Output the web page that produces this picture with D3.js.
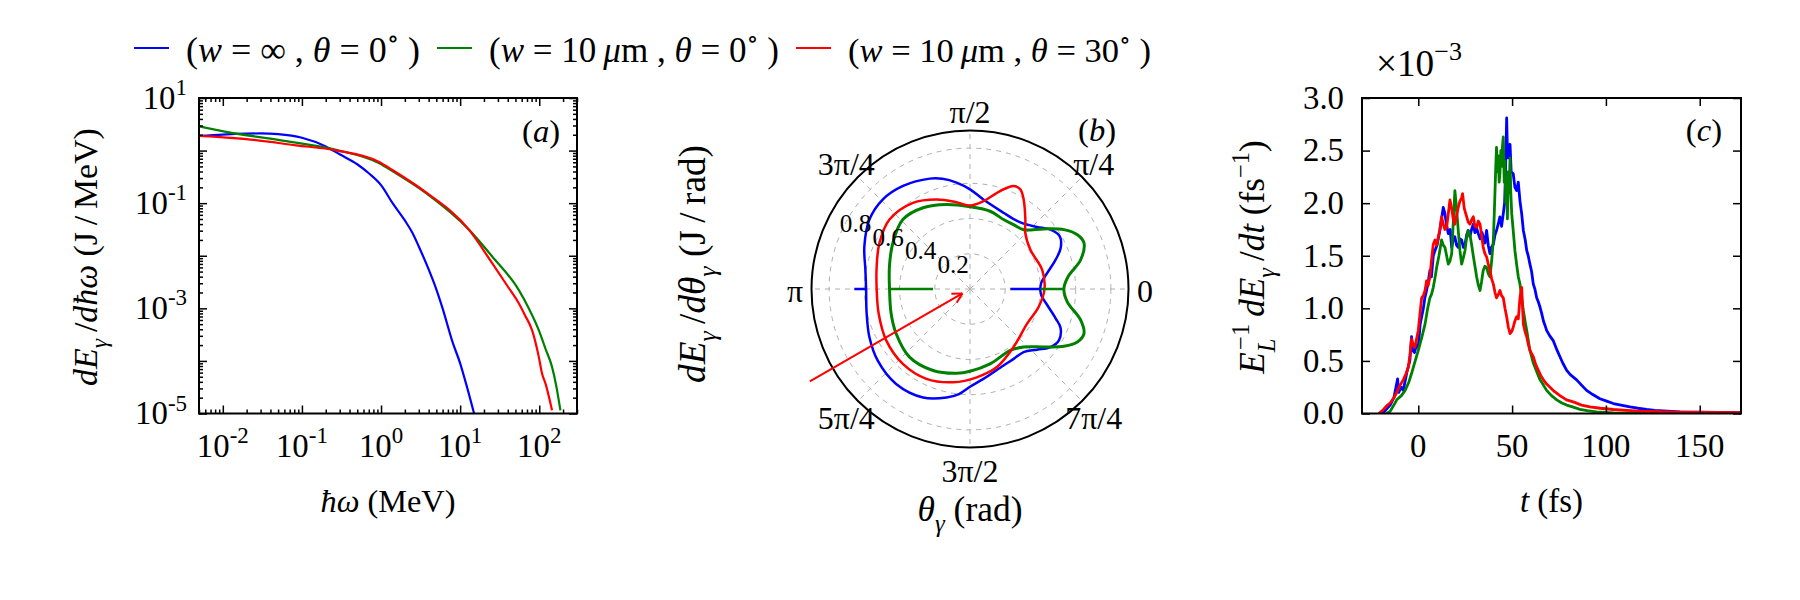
<!DOCTYPE html>
<html><head><meta charset="utf-8">
<script src="https://cdn.jsdelivr.net/npm/d3@7/dist/d3.min.js"></script>
<style>
html,body{margin:0;padding:0;background:#fff;}
text{font-family:'Liberation Serif','DejaVu Serif',serif;fill:#000;}
</style></head>
<body>
<svg id="fig" width="1800" height="600" xmlns="http://www.w3.org/2000/svg"></svg>
<script>
// ================= DATA =================
const seriesColors = ["#0000ff", "#008000", "#ff0000"];
const legendW = ["∞", "10", "10"];
const legendUnit = ["", "μm", "μm"];
const legendTheta = ["0", "0", "30"];

// (a) spectra  dE/dħω (J/MeV) vs ħω (MeV)
const specBlueE = [0.005, 0.01, 0.02, 0.03, 0.05, 0.1, 0.2, 0.3, 0.5, 0.7, 1, 1.4, 2, 2.5, 3, 4, 5, 6, 8, 10, 12, 15];
const specBlueV = [1.9, 2.02, 2.1, 2.12, 2.05, 1.75, 1.2, 0.85, 0.55, 0.37, 0.22, 0.1, 0.047, 0.027, 0.015, 0.0055, 0.0023, 0.001, 2.3e-4, 9e-5, 3.5e-5, 1e-5];
const specGreenE = [0.005, 0.011, 0.052, 0.27, 0.95, 1.39, 3.67, 12.9, 25.4, 55, 75, 98.6, 120, 145, 165, 185];
const specGreenV = [2.88, 2.27, 1.58, 1.03, 0.573, 0.408, 0.157, 0.0314, 0.0097, 0.00224, 9.5e-4, 3.85e-4, 1.7e-4, 7.7e-5, 3.2e-5, 1.15e-5];
const specRedE = [0.005, 0.0197, 0.0843, 0.27, 0.946, 1.39, 3.67, 12.9, 25.4, 40, 55.1, 66, 81.1, 98.6, 108.4, 120, 145];
const specRedV = [1.9, 1.65, 1.26, 1.01, 0.607, 0.427, 0.162, 0.0314, 0.00724, 0.0026, 0.00125, 7.4e-4, 3.85e-4, 1.2e-4, 5.75e-5, 3.7e-5, 1.15e-5];
const logXMajor = [1e-2, 1e-1, 1, 10, 100];
const logXExp = ["-2", "-1", "0", "1", "2"];
const logYLabelExp = [1, -1, -3, -5];

// (b) angular distribution dE/dθ (J/rad), angle in degrees
const polBlueDeg = [4.6, 11.6, 18.8, 24.3, 30.4, 36.4, 42.8, 50.6, 58, 66.3, 81.5, 90, 97.2, 104, 110, 123, 134.3, 145.4, 158, 169.6, 180, 193.3, 205.5, 217.7, 232.1, 246.6, 257.8, 264, 270, 278.5, 293.7, 302, 310.4, 317.9, 324.2, 330, 336.7, 341, 348, 355.4];
const polBlueR   = [0.405, 0.447, 0.513, 0.565, 0.591, 0.568, 0.519, 0.48, 0.468, 0.473, 0.514, 0.566, 0.609, 0.645, 0.667, 0.698, 0.71, 0.694, 0.647, 0.604, 0.59, 0.603, 0.633, 0.663, 0.683, 0.671, 0.63, 0.6, 0.555, 0.516, 0.474, 0.468, 0.47, 0.514, 0.564, 0.583, 0.56, 0.515, 0.45, 0.405];
const polGreenDeg = [0, 7, 14.8, 22, 26.8, 32.3, 39.2, 47.9, 55.9, 64.2, 75.5, 90, 105.5, 120, 134, 149.2, 164.4, 180, 197.2, 211.2, 228.4, 245.6, 261, 270, 285, 303.3, 312.7, 321.8, 328.6, 333.7, 338.6, 344.3, 352.5];
const polGreenR   = [0.533, 0.56, 0.65, 0.698, 0.683, 0.631, 0.54, 0.454, 0.441, 0.438, 0.456, 0.467, 0.498, 0.533, 0.549, 0.51, 0.475, 0.457, 0.469, 0.49, 0.517, 0.508, 0.484, 0.467, 0.44, 0.417, 0.449, 0.532, 0.625, 0.68, 0.695, 0.653, 0.557];
const polRedDeg = [0, 14.8, 33, 45.4, 51.4, 59.1, 63.2, 67, 72.9, 81.3, 90, 98.8, 110.5, 123.5, 139.2, 153, 166.5, 180, 195, 211.5, 228.1, 244.1, 259.8, 274.4, 289, 306.9, 328.8, 345.5];
const polRedR   = [0.423, 0.424, 0.409, 0.447, 0.504, 0.593, 0.634, 0.635, 0.582, 0.505, 0.474, 0.499, 0.543, 0.587, 0.604, 0.577, 0.545, 0.53, 0.537, 0.558, 0.571, 0.567, 0.538, 0.503, 0.469, 0.412, 0.379, 0.403];
// single-bin spikes at 0 and π
const spikeDeg = [0, 180, 0, 180];
const spikeFrom = [0.405, 0.59, 0.533, 0.457];
const spikeTo = [0.229, 0.657, 0.40, 0.21];
const spikeSeries = [0, 0, 1, 1];
const arrowDeg = 210, arrowFrom = 1.05, arrowTo = 0.05;
const polarRTicks = [0.2, 0.4, 0.6, 0.8];
const polarThetaLabels = ["0", "π/4", "π/2", "3π/4", "π", "5π/4", "3π/2", "7π/4"];

// (c) emission rate E_L^-1 dE/dt (×1e-3 fs^-1) vs t (fs)
const cBlueT = [-21,-18,-15,-13,-11,-10.5,-9,-8,-6,-4.5,-3.6,-3,-2,-1,0,1,2.7,3.5,4.4,5.3,6.2,7,8,8.9,10,11.5,12.4,13.3,14.2,15,16,17,17.8,18.6,19.5,20.4,21.3,22.2,23.1,24,24.9,25.8,26.6,27.5,28.4,29.3,30.2,31.1,32,33,34,34.6,35.5,36.4,37.3,38.2,39,40,40.9,41.7,42.6,43.5,44.4,45.3,46,46.5,47.1,47.5,48,48.9,49.5,50.6,51.5,52.4,53.3,54.2,55.1,56,57,57.8,58.6,59.5,60.4,61.3,62.2,63.1,64,64.9,65.8,66.7,67.5,68.4,70,72,74,75.5,77,79.1,81,84.4,87,89.7,93,96.8,100,104,108,112.8,117,121.7,126,130.6,135,139.5,150,160,172];
const cBlueV = [0,0.02,0.08,0.15,0.33,0.2,0.25,0.22,0.4,0.5,0.73,0.6,0.58,0.65,0.63,0.85,1.0,1.1,1.17,1.25,1.36,1.3,1.5,1.55,1.6,1.74,1.85,1.96,1.9,1.8,1.71,1.75,1.58,1.65,1.68,1.6,1.58,1.66,1.65,1.58,1.61,1.7,1.74,1.68,1.75,1.8,1.72,1.76,1.71,1.66,1.72,1.68,1.62,1.74,1.6,1.52,1.58,1.61,1.7,1.74,1.8,1.87,1.78,1.9,2.0,2.3,2.81,2.5,2.43,2.56,2.3,2.28,2.15,2.12,2.2,2.02,1.9,1.74,1.65,1.55,1.5,1.42,1.35,1.23,1.18,1.1,1.06,1.01,0.95,0.88,0.84,0.79,0.74,0.69,0.6,0.54,0.48,0.41,0.37,0.32,0.27,0.22,0.18,0.14,0.12,0.095,0.08,0.063,0.05,0.038,0.03,0.025,0.02,0.016,0.012,0.01,0.008];
const cGreenT = [-17,-15,-13,-11.5,-9,-7,-5,-3.6,-2,0,1.8,3.6,5,6.2,7,8,9,9.8,11,12.4,13.3,14.2,15.1,16,16.9,17.8,18.6,19.5,20.4,21.3,22.2,23.1,24,24.9,25.8,26.6,27.5,28.4,29.3,30.2,31.1,32,32.9,33.7,34.6,35.5,36.4,37.3,38.2,39.1,40,40.5,40.9,41.3,41.7,42.2,42.6,43.1,43.5,44,44.4,44.9,45.3,45.8,46.2,46.6,47.1,47.5,48,48.4,48.9,49.3,49.8,50.6,51.5,52.4,53.3,54.2,55.1,56,56.9,57.8,58.6,59.5,60.4,61.3,62.2,63.5,64.9,66.7,68.4,71,73.8,76.5,79.1,82.6,86.2,90,95,100,104,115,130,150,172];
const cGreenV = [0,0.02,0.08,0.13,0.17,0.22,0.3,0.38,0.48,0.6,0.72,0.85,1.0,1.1,1.13,1.2,1.3,1.39,1.5,1.65,1.6,1.58,1.5,1.42,1.45,1.52,1.8,2.12,1.95,1.74,1.55,1.42,1.48,1.55,1.68,1.74,1.7,1.61,1.5,1.4,1.3,1.22,1.17,1.25,1.36,1.4,1.39,1.33,1.3,1.45,1.65,1.9,2.12,2.35,2.53,2.3,2.45,2.2,2.28,2.5,2.35,2.55,2.63,2.2,2.4,2.0,2.12,1.85,2.3,2.1,2.43,2.1,1.9,1.74,1.55,1.42,1.3,1.23,1.1,0.98,0.88,0.79,0.7,0.6,0.54,0.48,0.44,0.38,0.32,0.27,0.22,0.17,0.13,0.1,0.08,0.06,0.04,0.028,0.016,0.01,0.006,0.003,0.002,0.001,0.0005];
const cRedT = [-21,-19,-17,-15,-13,-11.5,-10,-8,-6.5,-5.3,-4.5,-3.6,-2.7,-1.8,-1,0,0.9,1.8,2.7,3.6,4.4,5.3,6.2,7,8,8.9,9.8,10.7,11.5,12.4,13.3,14.2,15.1,16,16.9,17.8,18.6,19.5,20.4,21.3,22.2,23.1,23.6,24.5,25.8,26.6,27.5,28.4,29.3,30.2,31.1,32,32.9,33.7,34.6,35.5,36.4,37.3,38.2,39.1,40,40.9,41.7,42.6,43.5,44.4,45.3,46.2,47.1,48,48.9,49.8,50.6,51.5,52.4,53.3,54.2,55.1,55.6,56,56.9,57.8,58.6,59.5,60.4,61.3,62.5,64,65.3,66.7,68.4,70.2,72.5,75.5,79,82.6,87,91.5,97,104,111,118.2,128,139.5,155,172];
const cRedV = [0,0.03,0.07,0.1,0.15,0.2,0.26,0.32,0.38,0.44,0.55,0.71,0.65,0.63,0.7,0.79,0.95,1.1,1.12,1.17,1.26,1.22,1.3,1.45,1.61,1.65,1.6,1.68,1.75,1.87,1.8,1.75,1.77,1.9,2.03,1.95,1.85,1.8,1.88,1.96,2.02,2.05,2.09,1.95,1.87,1.82,1.8,1.84,1.87,1.78,1.77,1.83,1.8,1.7,1.58,1.52,1.49,1.42,1.36,1.28,1.23,1.15,1.1,1.13,1.17,1.12,1.1,1.0,0.92,0.82,0.76,0.78,0.82,0.88,0.92,0.9,1.1,1.2,1.0,0.85,0.78,0.73,0.66,0.6,0.57,0.54,0.47,0.41,0.36,0.32,0.28,0.25,0.21,0.17,0.13,0.11,0.08,0.063,0.05,0.038,0.03,0.022,0.017,0.013,0.01,0.008];
const cXTicks = [0, 50, 100, 150];
const cYTicks = [0, 0.5, 1.0, 1.5, 2.0, 2.5, 3.0];

// ================= DRAW =================
const svg = d3.select('#fig');

function rich(textSel, parts, fs) {
  let shift = 0;
  parts.forEach(p => {
    const [t, st, dx] = p;
    let target = 0, size = fs;
    if (st.includes('sub')) { target = 0.3 * fs; size = 0.7 * fs; }
    if (st.includes('sup')) { target = -0.42 * fs; size = 0.7 * fs; }
    const sp = textSel.append('tspan').text(t).attr('font-size', size);
    if (st.startsWith('i')) sp.attr('font-style', 'italic');
    if (target !== shift) sp.attr('dy', target - shift);
    if (dx) sp.attr('dx', dx * fs / 28);
    shift = target;
  });
  return textSel;
}
// build rich text, then rescale its font so that its length matches the reference length
function richFit(textSel, parts, fs, targetLen) {
  rich(textSel, parts, fs);
  const w = textSel.node().getComputedTextLength();
  let f = fs;
  if (targetLen && w > 0) {
    f = fs * targetLen / w;
    textSel.selectAll('tspan').remove();
    rich(textSel, parts, f);
  }
  return f;
}
function measureFont(parts, fs, targetLen) {
  const t = svg.append('text').attr('x', -1000).attr('y', -1000);
  const f = richFit(t, parts, fs, targetLen);
  t.remove();
  return f;
}

const FS_TICK = measureFont([["3.0", ""]], 28, 41);
const FS_THETA = measureFont([["3π/4", ""]], 28, 57);
const FS_RLAB = measureFont([["0.8", ""]], 24, 31.5);
const FS_LETTER = measureFont([["(", ""], ["a", "i"], [")", ""]], 30, 38);

function tickAxis(axisFn, scale, vals, size, tx, ty) {
  svg.append('g').attr('transform', `translate(${tx},${ty})`)
    .call(axisFn(scale).tickValues(vals).tickSize(size).tickSizeOuter(0).tickFormat(''))
    .call(s => s.select('.domain').remove())
    .call(s => s.selectAll('line').attr('stroke', '#000').attr('stroke-width', 1.5));
}

// ---------- Legend ----------
{
  const legendLineX = [134, 437, 796];   // layout: left end of each legend handle
  const legendTextLen = [234, 290, 303]; // layout: text extent in the reference
  const ly = 48, by = 62;
  seriesColors.forEach((c, i) => {
    const x = legendLineX[i];
    svg.append('line').attr('x1', x).attr('x2', x + 35).attr('y1', ly).attr('y2', ly)
      .attr('stroke', c).attr('stroke-width', 2);
    const t = svg.append('text').attr('x', x + 52).attr('y', by);
    const parts = [["(", ""], ["w", "i"], [" = " + legendW[i], ""]];
    if (legendUnit[i]) parts.push(["\u2009μ", "i"], ["m", ""]);
    parts.push([" , ", ""], ["θ", "i"], [" = " + legendTheta[i], ""], ["∘", "sup"], [" )", ""]);
    richFit(t, parts, 33, legendTextLen[i]);
  });
}

// ---------- Panel (a) ----------
const A = {l: 199, r: 577, t: 98, b: 413.5};
const xA = d3.scaleLog().domain([5e-3, 3e2]).range([A.l, A.r]);
const yA = d3.scaleLog().domain([1e-5, 1e1]).range([A.b, A.t]);
const isPow10 = v => Math.abs(Math.log10(v) - Math.round(Math.log10(v))) < 1e-9;
const xAMinor = xA.ticks().filter(v => !isPow10(v));
const xAMajor = xA.ticks().filter(isPow10);
const yAMinor = yA.ticks().filter(v => !isPow10(v));
const yAMajor = yA.ticks().filter(isPow10);

svg.append('clipPath').attr('id', 'clipA').append('rect')
  .attr('x', A.l).attr('y', A.t).attr('width', A.r - A.l).attr('height', A.b - A.t);
const lineA = d3.line().x(d => xA(d[0])).y(d => yA(d[1])).curve(d3.curveMonotoneX);
const gA = svg.append('g').attr('clip-path', 'url(#clipA)');
[[specBlueE, specBlueV], [specGreenE, specGreenV], [specRedE, specRedV]].forEach(([e, v], i) => {
  gA.append('path').attr('d', lineA(d3.zip(e, v))).attr('fill', 'none')
    .attr('stroke', seriesColors[i]).attr('stroke-width', 2.2);
});
tickAxis(d3.axisBottom, xA, xAMajor, -8, 0, A.b);
tickAxis(d3.axisBottom, xA, xAMinor, -4, 0, A.b);
tickAxis(d3.axisTop, xA, xAMajor, -8, 0, A.t);
tickAxis(d3.axisTop, xA, xAMinor, -4, 0, A.t);
tickAxis(d3.axisLeft, yA, yAMajor, -8, A.l, 0);
tickAxis(d3.axisLeft, yA, yAMinor, -4, A.l, 0);
tickAxis(d3.axisRight, yA, yAMajor, -8, A.r, 0);
tickAxis(d3.axisRight, yA, yAMinor, -4, A.r, 0);
svg.append('rect').attr('x', A.l).attr('y', A.t).attr('width', A.r - A.l).attr('height', A.b - A.t)
  .attr('fill', 'none').attr('stroke', '#000').attr('stroke-width', 2);
logXMajor.forEach((v, i) => {
  rich(svg.append('text').attr('x', xA(v)).attr('y', 457).attr('text-anchor', 'middle'),
    [["10", ""], [logXExp[i], "sup"]], FS_TICK);
});
logYLabelExp.forEach(e => {
  rich(svg.append('text').attr('x', 187).attr('y', yA(Math.pow(10, e)) + 0.33 * FS_TICK).attr('text-anchor', 'end'),
    [["10", ""], [String(e), "sup"]], FS_TICK);
});
richFit(svg.append('text').attr('x', (A.l + A.r) / 2).attr('y', 512).attr('text-anchor', 'middle'),
  [["ħω", "i"], [" (MeV)", ""]], 28, 135);
richFit(svg.append('text').attr('transform', `translate(97,257) rotate(-90)`).attr('text-anchor', 'middle'),
  [["dE", "i"], ["γ", "isub"], ["\u2009/", ""], ["d", "i"], ["ħω", "i"], [" (J\u2009/\u2009MeV)", ""]], 28, 258);
rich(svg.append('text').attr('x', 560).attr('y', 142).attr('text-anchor', 'end'),
  [["(", ""], ["a", "i"], [")", ""]], FS_LETTER);

// ---------- Panel (b) polar ----------
const P = {cx: 970, cy: 289, R: 158.5};
const rP = d3.scaleLinear().domain([0, 0.9]).range([0, P.R]);
const gP = svg.append('g').attr('transform', `translate(${P.cx},${P.cy})`);
const toXY = (deg, r) => [rP(r) * Math.cos(deg * Math.PI / 180), -rP(r) * Math.sin(deg * Math.PI / 180)];
polarRTicks.forEach(v => {
  gP.append('circle').attr('r', rP(v)).attr('fill', 'none').attr('stroke', '#b0b0b0')
    .attr('stroke-width', 1).attr('stroke-dasharray', '5,5');
});
polarThetaLabels.forEach((lab, k) => {
  const [x2, y2] = toXY(k * 45, 0.9);
  gP.append('line').attr('x1', 0).attr('y1', 0).attr('x2', x2).attr('y2', y2)
    .attr('stroke', '#b0b0b0').attr('stroke-width', 1).attr('stroke-dasharray', '5,5');
});
gP.append('clipPath').attr('id', 'clipP').append('circle').attr('r', P.R);
const gPc = gP.append('g').attr('clip-path', 'url(#clipP)');
const lineP = d3.lineRadial().angle(d => (90 - d[0]) * Math.PI / 180).radius(d => rP(d[1]))
  .curve(d3.curveCatmullRomClosed.alpha(0.5));
[[polBlueDeg, polBlueR, 2.5], [polGreenDeg, polGreenR, 3], [polRedDeg, polRedR, 2.5]].forEach(([a, r, w], i) => {
  gPc.append('path').attr('d', lineP(d3.zip(a, r))).attr('fill', 'none')
    .attr('stroke', seriesColors[i]).attr('stroke-width', w);
});
spikeDeg.forEach((deg, i) => {
  const [x1, y1] = toXY(deg, spikeFrom[i]);
  const [x2, y2] = toXY(deg, spikeTo[i]);
  gPc.append('line').attr('x1', x1).attr('y1', y1).attr('x2', x2).attr('y2', y2)
    .attr('stroke', seriesColors[spikeSeries[i]]).attr('stroke-width', 2.5);
});
gP.append('circle').attr('r', P.R).attr('fill', 'none').attr('stroke', '#000').attr('stroke-width', 2);
{
  const [x1, y1] = toXY(arrowDeg, arrowFrom);
  const [x2, y2] = toXY(arrowDeg, arrowTo);
  gP.append('line').attr('x1', x1).attr('y1', y1).attr('x2', x2).attr('y2', y2)
    .attr('stroke', '#ff0000').attr('stroke-width', 2);
  const ang = Math.atan2(y1 - y2, x1 - x2);
  [-0.5, 0.5].forEach(s => {
    gP.append('line').attr('x1', x2).attr('y1', y2)
      .attr('x2', x2 + 11 * Math.cos(ang + s)).attr('y2', y2 + 11 * Math.sin(ang + s))
      .attr('stroke', '#ff0000').attr('stroke-width', 2);
  });
}
const rlabA = 157.5 * Math.PI / 180;
polarRTicks.forEach(v => {
  gP.append('text').attr('x', rP(v) * Math.cos(rlabA)).attr('y', -rP(v) * Math.sin(rlabA) - 3)
    .attr('font-size', FS_RLAB).text(v.toFixed(1));
});
polarThetaLabels.forEach((lab, k) => {
  const th = k * 45 * Math.PI / 180;
  const x = 175 * Math.cos(th);
  const y = -175 * Math.sin(th) + 13 - 4.5 * Math.sin(th);
  gP.append('text').attr('x', x).attr('y', y).attr('text-anchor', 'middle')
    .attr('font-size', FS_THETA).text(lab);
});
richFit(svg.append('text').attr('x', P.cx).attr('y', 521).attr('text-anchor', 'middle'),
  [["θ", "i"], ["γ", "isub"], [" (rad)", ""]], 28, 105);
richFit(svg.append('text').attr('transform', `translate(705,264) rotate(-90)`).attr('text-anchor', 'middle'),
  [["dE", "i"], ["γ", "isub"], ["\u2009/", ""], ["dθ", "i"], ["γ", "isub"], [" (J\u2009/\u2009rad)", ""]], 28, 238);
rich(svg.append('text').attr('x', 1116).attr('y', 141).attr('text-anchor', 'end'),
  [["(", ""], ["b", "i"], [")", ""]], FS_LETTER);

// ---------- Panel (c) ----------
const C = {l: 1362, r: 1741, t: 98, b: 413.5};
const xC = d3.scaleLinear().domain([-30, 172]).range([C.l, C.r]);
const yC = d3.scaleLinear().domain([0, 3]).range([C.b, C.t]);
svg.append('clipPath').attr('id', 'clipC').append('rect')
  .attr('x', C.l).attr('y', C.t).attr('width', C.r - C.l).attr('height', C.b - C.t);
const lineC = d3.line().x(d => xC(d[0])).y(d => yC(d[1]));
const gC = svg.append('g').attr('clip-path', 'url(#clipC)');
[[cBlueT, cBlueV], [cGreenT, cGreenV], [cRedT, cRedV]].forEach(([t, v], i) => {
  gC.append('path').attr('d', lineC(d3.zip(t, v))).attr('fill', 'none')
    .attr('stroke', seriesColors[i]).attr('stroke-width', 2.8).attr('stroke-linejoin', 'round');
});
tickAxis(d3.axisBottom, xC, cXTicks, -8, 0, C.b);
tickAxis(d3.axisTop, xC, cXTicks, -8, 0, C.t);
tickAxis(d3.axisLeft, yC, cYTicks, -8, C.l, 0);
tickAxis(d3.axisRight, yC, cYTicks, -8, C.r, 0);
svg.append('rect').attr('x', C.l).attr('y', C.t).attr('width', C.r - C.l).attr('height', C.b - C.t)
  .attr('fill', 'none').attr('stroke', '#000').attr('stroke-width', 2);
cXTicks.forEach(v => {
  svg.append('text').attr('x', xC(v)).attr('y', 457).attr('text-anchor', 'middle')
    .attr('font-size', FS_TICK).text(String(v));
});
cYTicks.forEach(v => {
  svg.append('text').attr('x', 1344).attr('y', yC(v) + 0.33 * FS_TICK).attr('text-anchor', 'end')
    .attr('font-size', FS_TICK).text(v.toFixed(1));
});
richFit(svg.append('text').attr('x', 1376).attr('y', 76), [["×10", ""], ["−3", "sup"]], 28, 86);
richFit(svg.append('text').attr('x', (C.l + C.r) / 2).attr('y', 512).attr('text-anchor', 'middle'),
  [["t", "i"], [" (fs)", ""]], 28, 63);
richFit(svg.append('text').attr('transform', `translate(1264,257) rotate(-90)`).attr('text-anchor', 'middle'),
  [["E", "i"], ["L", "isub"], ["−1", "sup", -9], ["\u2009dE", "i"], ["γ", "isub"], ["\u2009/", ""], ["dt", "i"], [" (fs", ""], ["−1", "sup"], [")", ""]], 28, 245);
rich(svg.append('text').attr('x', 1722).attr('y', 141).attr('text-anchor', 'end'),
  [["(", ""], ["c", "i"], [")", ""]], FS_LETTER);
</script>
</body></html>
